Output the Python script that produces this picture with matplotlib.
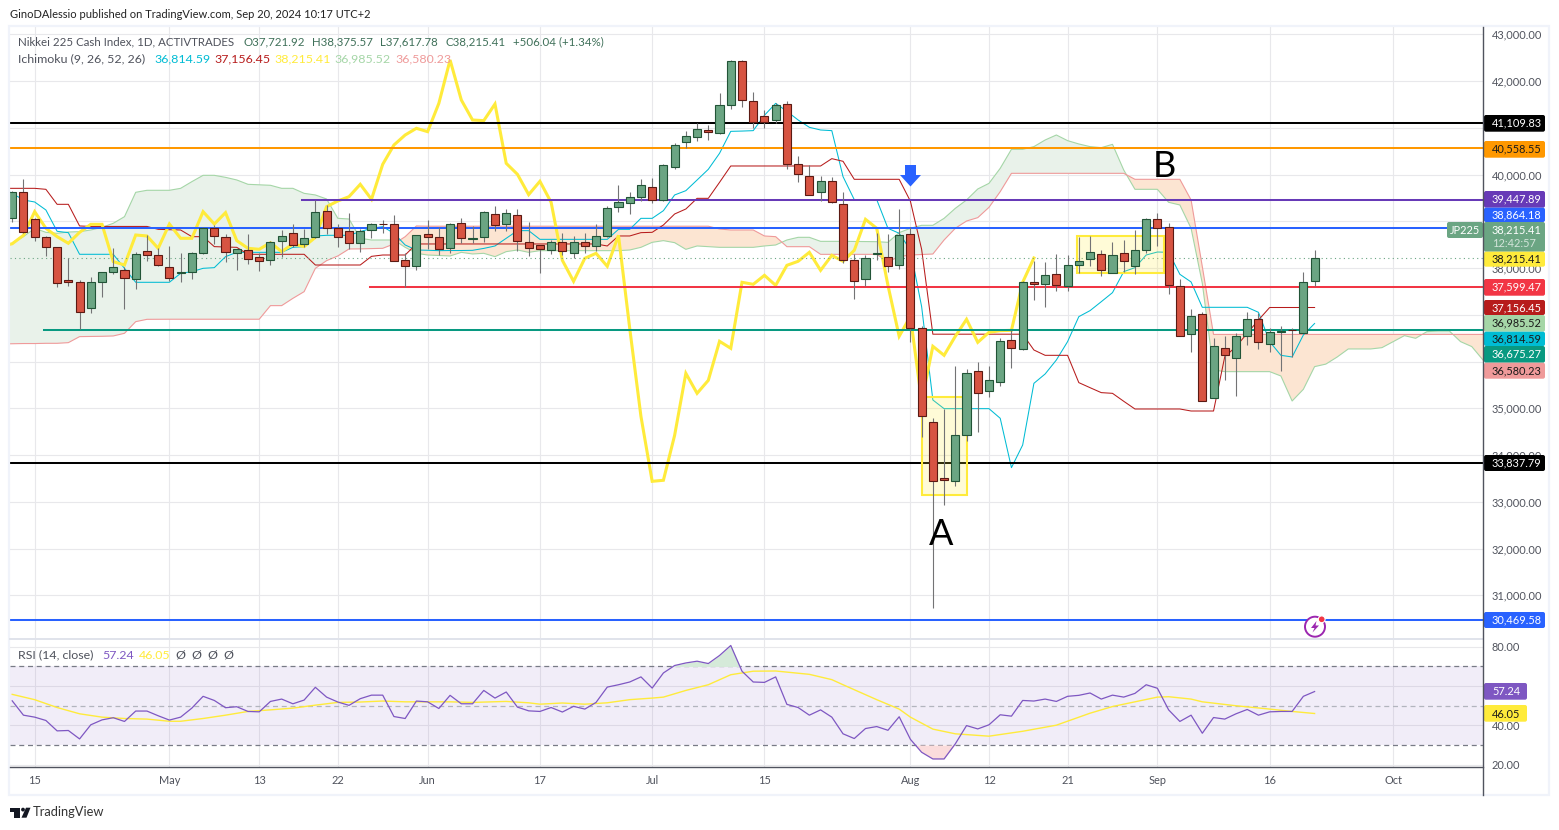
import matplotlib
matplotlib.use("Agg")
import matplotlib.pyplot as plt
import numpy as np
from matplotlib.patches import Rectangle, FancyBboxPatch, Circle, Polygon

plt.rcParams['font.family'] = ['Lato', 'DejaVu Sans']

# Nikkei daily candles, first visible bar has index -2 (15 Apr is index 0)
opens = [39064, 39620, 39042, 38657, 38443, 37737, 37695, 37138, 37695, 37909,
         37951, 37759, 38358, 38272, 38016, 37900, 37909, 38315, 38850, 38657,
         38315, 38379, 38229, 38165, 38572, 38743, 38507, 38657, 39213, 38850,
         38786, 38529, 38807, 38942, 38935, 38165, 38037, 38721, 38657, 38422,
         38957, 38630, 38671, 39149, 38935, 39128, 38550, 38486, 38379, 38550,
         38315, 38550, 38464, 38678, 39299, 39384, 39513, 39727, 39463, 40169,
         40689, 40796, 40946, 40882, 41480, 42422, 41566, 41260, 41160, 41502,
         40219, 39962, 39620, 39855, 39363, 38165, 37759, 38310, 38229, 38058,
         38721, 36711, 34700, 33502, 33438, 34422, 35791, 35363, 35556, 36454,
         36261, 37695, 37652, 37866, 37609, 38058, 38187, 38294, 37901, 38315,
         38037, 38379, 39042, 38871, 37609, 36582, 37010, 35213, 36283, 36069,
         36540, 36903, 36368, 36640, 36675, 36604, 37722]
closes = [39620, 38778, 38657, 38443, 37673, 37695, 37053, 37695, 37909, 38016,
          37780, 38294, 38272, 38058, 37780, 37910, 38315, 38850, 38679, 38336,
          38401, 38194, 38144, 38550, 38679, 38486, 38636, 39192, 38850, 38657,
          38529, 38786, 38935, 38935, 38144, 38051, 38700, 38671, 38415, 38935,
          38636, 38636, 39192, 38914, 39171, 38572, 38422, 38400, 38550, 38358,
          38550, 38464, 38678, 39277, 39406, 39513, 39769, 39449, 40197, 40625,
          40817, 40967, 40903, 41480, 42422, 41587, 41131, 41131, 41480, 40219,
          40005, 39570, 39855, 39406, 38165, 37716, 38208, 38315, 38037, 38700,
          36711, 34828, 33438, 33460, 34422, 35748, 35320, 35598, 36433, 36283,
          37695, 37652, 37844, 37630, 38058, 38144, 38336, 37951, 38272, 38144,
          38379, 39042, 38850, 37630, 36540, 36967, 35149, 36326, 36133, 36540,
          36903, 36411, 36625, 36660, 36668, 37695, 38215.41]
highs = [39650, 39905, 39060, 38680, 38443, 38208, 37745, 37809, 37915, 38422,
         38030, 38351, 38707, 38422, 38472, 38329, 38344, 38871, 38921, 38728,
         38401, 38728, 38315, 38586, 38814, 38942, 38828, 39456, 39342, 38942,
         39178, 38828, 38957, 39028, 39128, 38315, 38707, 39028, 38885, 38957,
         39071, 38900, 39213, 39327, 39263, 39263, 38978, 38500, 38600, 38757,
         38678, 38743, 38935, 39327, 39776, 39620, 39898, 39919, 40225, 40668,
         40931, 41095, 41060, 41751, 42450, 42450, 41773, 41381, 41523, 41566,
         40397, 40197, 39976, 39940, 39620, 38293, 38279, 38743, 38728, 39263,
         38871, 36750, 34786, 34992, 35905, 35841, 35984, 35905, 36497, 36675,
         37716, 38144, 38122, 38294, 38272, 38671, 38686, 38379, 38557, 38600,
         38814, 39064, 39171, 38957, 37766, 37117, 37053, 36497, 36547, 36604,
         37060, 37046, 36711, 36760, 36711, 37909, 38375.57]
lows = [38978, 38743, 38586, 38258, 37602, 37623, 36689, 37046, 37388, 37873,
        37117, 37545, 38158, 38044, 37730, 37709, 37773, 38294, 38515, 38137,
        37959, 38087, 37944, 38065, 38244, 38458, 38458, 38636, 38728, 38458,
        38401, 38351, 38643, 38743, 38144, 37602, 37959, 38401, 38279, 38329,
        38529, 38529, 38564, 38800, 38800, 38365, 38258, 37901, 38293, 38279,
        38222, 38329, 38372, 38671, 39206, 39149, 39427, 39399, 39427, 40126,
        40561, 40718, 40739, 40867, 41409, 41452, 40989, 41003, 41096, 40126,
        39848, 39555, 39427, 39399, 38101, 37345, 37616, 38172, 37908, 37973,
        36425, 34394, 30729, 32932, 33345, 34300, 34500, 35249, 35484, 35869,
        36247, 37317, 37174, 37509, 37509, 37901, 38044, 37837, 37887, 37923,
        37880, 38315, 38472, 37445, 36540, 36212, 35149, 35213, 35606, 35263,
        36361, 36269, 36205, 35805, 36090, 36604, 37617.78]

# Ichimoku lines, all of them start at index -3
tenkan = [39720, 39598, 39456, 39413, 39242, 38786, 38757, 38294, 38294, 38294,
          38294, 37994, 37695, 37695, 37695, 37695, 37887, 37923, 37994, 38008,
          38244, 38336, 38336, 38336, 38336, 38336, 38443, 38458, 38686, 38700,
          38700, 38700, 38779, 38850, 38885, 38743, 38493, 38386, 38380, 38372,
          38375, 38375, 38379, 38420, 38472, 38636, 38800, 38800, 38614, 38614,
          38614, 38614, 38614, 38614, 38614, 38828, 38828, 39063, 39063, 39227,
          39563, 39655, 39883, 40112, 40454, 40924, 40930, 40939, 41267, 41523,
          41352, 41167, 41010, 40953, 40939, 39955, 39463, 39463, 39463, 38850,
          38743, 38386, 37174, 35178, 34992, 34992, 34992, 34992, 34992, 34786,
          33730, 34215, 35534, 35734, 36033, 36426, 36960, 37089, 37280, 37474,
          37923, 38008, 38279, 38343, 38336, 37866, 37702, 37160, 37160, 37160,
          37160, 37160, 37053, 36426, 36133, 36098, 36568, 36814]
kijun = [39705, 39705, 39705, 39705, 39684, 39363, 39363, 38900, 38890, 38890,
         38890, 38890, 38890, 38890, 38828, 38820, 38814, 38671, 38671, 38458,
         38450, 38443, 38294, 38294, 38294, 38294, 38294, 38294, 38065, 38065,
         38065, 38065, 38065, 38250, 38279, 38279, 38279, 38515, 38515, 38515,
         38515, 38515, 38515, 38515, 38515, 38515, 38515, 38515, 38515, 38515,
         38515, 38515, 38515, 38515, 38472, 38686, 38686, 38757, 38764, 38921,
         39156, 39263, 39491, 39491, 39833, 40183, 40183, 40183, 40183, 40183,
         40183, 40183, 40183, 40183, 40340, 40283, 39898, 39898, 39898, 39898,
         39898, 39430, 38400, 36585, 36585, 36585, 36585, 36585, 36585, 36585,
         36585, 36585, 36247, 36133, 36133, 36133, 35549, 35441, 35335, 35320,
         35150, 34985, 34985, 34985, 34985, 34985, 34942, 34942, 34942, 36105,
         36318, 36604, 36889, 37156, 37156, 37156, 37156, 37156]
chikou = [38460, 38520, 38700, 39206, 38850, 38671, 38529, 38764, 38935, 38935,
          38137, 38065, 38707, 38686, 38422, 38942, 38636, 38636, 39206, 38942,
          39185, 38586, 38422, 38401, 38543, 38351, 38515, 38458, 38657, 39313,
          39434, 39527, 39791, 39470, 40219, 40632, 40846, 40989, 40917, 41523,
          42450, 41595, 41167, 41153, 41509, 40240, 40005, 39570, 39855, 39406,
          38165, 37716, 38208, 38315, 38037, 38700, 36711, 34828, 33438, 33460,
          34422, 35748, 35320, 35598, 36433, 36283, 37695, 37652, 37844, 37630,
          38058, 38144, 38336, 37951, 38272, 38144, 38379, 39042, 38850, 37630,
          36540, 36967, 35149, 36326, 36133, 36540, 36903, 36411, 36625, 36660,
          36668, 37695, 38215]
span_a = [38458, 38530, 38671, 38850, 38764, 38743, 38771, 38778, 38814, 38871,
          38957, 39099, 39620, 39663, 39663, 39663, 39705, 39848, 39983, 39983,
          39940, 39884, 39791, 39780, 39770, 39705, 39705, 39598, 39563, 39477,
          39064, 39049, 38636, 38600, 38600, 38600, 38443, 38315, 38279, 38268,
          38258, 38336, 38301, 38315, 38244, 38351, 38386, 38336, 38372, 38372,
          38372, 38372, 38372, 38372, 38372, 38372, 38386, 38443, 38550, 38586,
          38543, 38400, 38472, 38457, 38443, 38443, 38443, 38443, 38472, 38493,
          38600, 38657, 38657, 38571, 38571, 38571, 38568, 38566, 38564, 38550,
          38757, 38850, 38914, 38914, 39063, 39277, 39456, 39691, 39812, 40133,
          40540, 40540, 40597, 40739, 40846, 40725, 40654, 40597, 40575, 40646,
          40097, 39684, 39684, 39684, 39406, 39349, 38850, 37673, 35820, 35784,
          35784, 35784, 35784, 35784, 35691, 35156, 35406, 35891, 35945, 36095,
          36269, 36269, 36269, 36297, 36426, 36554, 36497, 36639, 36654, 36654,
          36426, 36320, 36033]
span_b = [36376, 36380, 36385, 36385, 36390, 36390, 36404, 36533, 36536, 36540,
          36547, 36604, 36853, 36903, 36905, 36905, 36905, 36905, 36905, 36905,
          36905, 36905, 36905, 36905, 37196, 37196, 37352, 37495, 37994, 38158,
          38258, 38408, 38410, 38415, 38422, 38515, 38671, 38900, 38895, 38895,
          38895, 38895, 38895, 38895, 38895, 38895, 38895, 38895, 38895, 38895,
          38895, 38895, 38895, 38895, 38895, 38895, 38895, 38895, 38895, 38895,
          38895, 38895, 38895, 38895, 38835, 38814, 38814, 38814, 38686, 38671,
          38457, 38457, 38457, 38293, 38293, 38293, 38293, 38293, 38293, 38137,
          38244, 38279, 38290, 38300, 38600, 38850, 39006, 39078, 39299, 39634,
          40026, 40026, 40026, 40026, 40026, 40026, 40026, 40026, 40026, 40026,
          40026, 39898, 39898, 39898, 39898, 39898, 39456, 38030, 36580, 36580,
          36580, 36580, 36580, 36580, 36580, 36580, 36580, 36580, 36580, 36580,
          36580, 36580, 36580, 36580, 36580, 36580, 36580, 36580, 36580, 36580,
          36580, 36580, 36580]

# RSI starts at index -2 like the candles
rsi = [52.5, 45.2, 44.2, 42.5, 37.2, 37.4, 33.1, 40.3, 42.8, 43.9,
       42.0, 47.3, 47.3, 44.9, 42.7, 44.2, 48.8, 54.8, 52.7, 49.0,
       49.5, 47.1, 46.9, 52.2, 53.4, 51.0, 52.9, 59.4, 54.4, 51.9,
       50.2, 53.6, 55.4, 55.4, 44.5, 43.5, 52.4, 52.0, 48.6, 55.3,
       51.0, 51.0, 57.8, 53.9, 57.0, 49.3, 47.4, 47.1, 49.1, 46.8,
       49.7, 48.3, 51.7, 59.5, 60.7, 62.1, 64.7, 59.0, 66.7, 70.5,
       71.8, 72.7, 71.5, 75.6, 80.7, 67.6, 62.1, 61.9, 64.7, 50.7,
       49.1, 45.2, 47.9, 44.2, 35.7, 33.3, 38.4, 39.4, 37.5, 44.4,
       32.9, 26.3, 22.9, 22.9, 30.6, 39.9, 38.2, 40.3, 45.4, 44.7,
       52.7, 52.4, 53.4, 52.2, 54.8, 55.3, 56.5, 53.4, 55.4, 54.4,
       56.3, 60.7, 58.9, 47.9, 42.0, 45.2, 36.0, 44.0, 43.2, 45.9,
       48.1, 45.2, 46.9, 47.1, 47.1, 54.8, 57.24]
rsi_ma_bars = [-2, 0, 2, 4, 6, 8, 10, 12, 13, 15, 17, 19, 21, 23, 25, 27, 29, 31, 33, 35,
               37, 39, 42, 44, 45, 47, 49, 51, 53, 55, 56, 58, 60, 62, 64, 66, 69, 71, 72,
               75, 77, 78, 80, 82, 85, 88, 91, 94, 96, 98, 100, 101, 103, 104, 107, 110, 112, 114]
rsi_ma = [55.8, 53.1, 49.1, 45.9, 44.2, 43.5, 43.2, 42.1, 42.1, 43.5, 45.2, 47.1, 47.9, 48.8,
          50.3, 51.7, 51.9, 52.4, 52.0, 52.0, 52.0, 51.7, 52.2, 51.5, 50.8, 51.4, 50.8, 51.5,
          53.1, 53.9, 54.4, 57.8, 60.7, 65.8, 67.6, 67.7, 66.0, 63.3, 60.7, 53.1, 48.3, 44.2,
          38.1, 35.7, 34.5, 37.0, 40.1, 46.2, 49.6, 52.0, 54.4, 54.6, 53.4, 52.0, 50.0, 48.3,
          47.1, 46.05]

# time axis
date_bars = [0, 12, 20, 27, 35, 45, 55, 65, 78, 85, 92, 100, 110, 121]
date_labels = ['15', 'May', '13', '22', 'Jun', '17', 'Jul', '15', 'Aug', '12', '21', 'Sep', '16', 'Oct']
price_ticks = [31000, 32000, 33000, 34000, 35000, 36000, 37000, 38000, 39000, 40000, 41000, 42000, 43000]
hidden_ticks = [36000, 37000, 39000, 41000]  # covered by the price tags on the original
rsi_ticks = [20, 40, 60, 80]

# levels drawn by hand: value, first bar (None = from the left edge), colour
levels = [41109.83, 40558.55, 39447.89, 38864.18, 37599.47, 36675.27, 33837.79, 30469.58]
level_starts = [None, None, 23.8, None, 29.9, 0.83, None, None]
level_colors = ['#000000', '#ff9800', '#673ab7', '#2962ff', '#f23645', '#089981', '#000000', '#2962ff']
last_close = 38215.41

UP, UP_EDGE = '#6ba583', '#225437'
DOWN, DOWN_EDGE = '#d75442', '#5b1a13'
GRID = '#e8e8eb'

W, H = 1559, 830
fig = plt.figure(figsize=(W / 100, H / 100), dpi=100, facecolor='white')


def pane(x0, y0, x1, y1):
    # pane rectangle given in pixels from the top left
    return fig.add_axes([x0 / W, 1 - y1 / H, (x1 - x0) / W, (y1 - y0) / H])


ax = pane(10, 27, 1483, 639)
ax_rsi = pane(10, 639, 1483, 767)
XLIM = (-2.197, 129.0)

for a in (ax, ax_rsi):
    a.set_xlim(*XLIM)
    for s in a.spines.values():
        s.set_visible(False)
    a.yaxis.tick_right()
    a.set_xticks(date_bars)
    a.grid(True, color=GRID, lw=0.8)
    a.set_axisbelow(True)
    a.tick_params(length=0, labelsize=7.9, labelcolor='#4f525c', pad=6.2)

ax.set_ylim(30065, 43156)
ax.set_yticks(price_ticks)
ax.set_yticklabels(['' if v in hidden_ticks else f'{v:,.2f}' for v in price_ticks], va='center_baseline')
ax.tick_params(axis='x', labelbottom=False)

bars = np.arange(len(opens)) - 2
o, c, h, l = map(np.array, (opens, closes, highs, lows))
up = c >= o

# cloud
x_span = np.arange(len(span_a)) - 3
a_arr, b_arr = np.array(span_a), np.array(span_b)
ax.fill_between(x_span, a_arr, b_arr, where=a_arr >= b_arr, interpolate=True, color='#e9f2ea', lw=0, zorder=1)
ax.fill_between(x_span, a_arr, b_arr, where=a_arr < b_arr, interpolate=True, color='#fce5d2', lw=0, zorder=1)
ax.plot(x_span, span_a, color='#a5d6a7', lw=0.8, zorder=2)
ax.plot(x_span, span_b, color='#ef9a9a', lw=0.8, zorder=2)

x_line = np.arange(len(tenkan)) - 3
ax.plot(x_line, tenkan, color='#00bcd4', lw=0.75, zorder=3)
ax.plot(x_line, kijun, color='#b71c1c', lw=0.75, zorder=3)
ax.plot(np.arange(len(chikou)) - 3, chikou, color='#ffeb3b', lw=2.2, zorder=3, solid_joinstyle='miter')

# horizontal levels
for val, start, col in zip(levels, level_starts, level_colors):
    ax.plot([XLIM[0] if start is None else start, XLIM[1]], [val, val], color=col, lw=1.45, zorder=4)
ax.axhline(last_close, color=UP, lw=0.8, ls=(0, (1, 3)), zorder=4)

# yellow boxes around the two congestion zones
for x0, x1, p0, p1 in [(79, 83, 33146, 35249), (92.85, 100.6, 37894, 38693)]:
    ax.add_patch(Rectangle((x0, p0), x1 - x0, p1 - p0, fc=(1, 0.92, 0.23, 0.2), ec='#ffeb3b', lw=1.5, zorder=5))

# candles
ax.vlines(bars, l, h, color='#737375', lw=0.8, zorder=6)
ax.bar(bars[up], (c - o)[up], bottom=o[up], width=0.72, color=UP, edgecolor=UP_EDGE, lw=0.8, zorder=7)
ax.bar(bars[~up], (c - o)[~up], bottom=o[~up], width=0.72, color=DOWN, edgecolor=DOWN_EDGE, lw=0.8, zorder=7)

ax.text(80.7, 32300, 'A', fontsize=26, color='black', ha='center', va='center', zorder=8)
ax.text(100.6, 40180, 'B', fontsize=26, color='black', ha='center', va='center', zorder=8)

# RSI pane
ax_rsi.set_ylim(18.8, 84)
ax_rsi.set_yticks(rsi_ticks)
ax_rsi.set_yticklabels([f'{v:.2f}' for v in rsi_ticks], va='center_baseline')
ax_rsi.set_xticklabels(date_labels)
ax_rsi.tick_params(axis='x', pad=5.4)
ax_rsi.axhspan(30, 70, color='#7e57c2', alpha=0.1, lw=0, zorder=1)
for v, col in [(70, '#787b86'), (30, '#787b86'), (50, '#b2b5be')]:
    ax_rsi.axhline(v, color=col, lw=0.9, ls=(0, (4, 3)), zorder=2)
x_rsi = np.arange(len(rsi)) - 2
rsi_arr = np.array(rsi)
ax_rsi.fill_between(x_rsi, rsi_arr, 70, where=rsi_arr > 70, interpolate=True, color='#d5ead9', lw=0, zorder=2)
ax_rsi.fill_between(x_rsi, rsi_arr, 30, where=rsi_arr < 30, interpolate=True, color='#fbdcdc', lw=0, zorder=2)
ax_rsi.plot(rsi_ma_bars, rsi_ma, color='#ffeb3b', lw=1.0, zorder=3)
ax_rsi.plot(x_rsi, rsi, color='#7e57c2', lw=0.9, zorder=4)

# overlay in pixel coordinates for the price tags, headers and frame
ov = fig.add_axes([0, 0, 1, 1], zorder=20)
ov.set_xlim(0, W)
ov.set_ylim(H, 0)
ov.axis('off')


def text(x, y, s, color='#4f525c', size=8.6, **kw):
    kw.setdefault('va', 'center')
    ov.text(x, y, s, color=color, fontsize=size, **kw)


def tag(y0, y1, s, bg, fg):
    ov.add_patch(FancyBboxPatch((1484, y0), 61, y1 - y0, boxstyle='round,pad=0,rounding_size=2', fc=bg, ec='none'))
    text(1492, (y0 + y1) / 2, s, color=fg, size=7.9)


# frame and axis lines
ov.add_patch(Rectangle((9, 26.5), 1540, 768.5, fc='none', ec='#f0f3fa', lw=1.6))
ov.plot([10, 1483], [639, 639], color='#e0e3eb', lw=1.4)
ov.plot([10, 1483], [767, 767], color='#50535e', lw=1.0)
ov.plot([1483, 1483], [27, 795], color='#50535e', lw=1.0)

tag(115, 131.7, '41,109.83', '#000000', 'white')
tag(141, 157.7, '40,558.55', '#ff9800', '#1a1a1a')
tag(191, 207.7, '39,447.89', '#673ab7', 'white')
tag(207.7, 222, '38,864.18', '#2962ff', 'white')
ov.add_patch(FancyBboxPatch((1484, 222), 61, 29.7, boxstyle='round,pad=0,rounding_size=2', fc=UP, ec='none'))
text(1492, 230, '38,215.41', color='white', size=7.9)
text(1492, 243, '12:42:57', color='#d3e4da', size=7.9)
tag(251.7, 266.7, '38,215.41', '#ffeb3b', '#1a1a1a')
tag(279, 295.7, '37,599.47', '#f23645', 'white')
tag(300, 315, '37,156.45', '#b71c1c', 'white')
tag(315, 331.7, '36,985.52', '#a5d6a7', '#1a1a1a')
tag(331.7, 346, '36,814.59', '#00bcd4', '#1a1a1a')
tag(346, 362.7, '36,675.27', '#089981', 'white')
tag(362.7, 378.7, '36,580.23', '#ef9a9a', '#1a1a1a')
tag(455, 471, '33,837.79', '#000000', 'white')
tag(612, 628, '30,469.58', '#2962ff', 'white')
ov.add_patch(FancyBboxPatch((1447, 222), 36, 16, boxstyle='round,pad=0,rounding_size=2', fc=UP, ec='none'))
text(1465, 230.5, 'JP225', color='white', size=7.9, ha='center')

# rsi tags
ov.add_patch(FancyBboxPatch((1484, 683), 43, 16.7, boxstyle='round,pad=0,rounding_size=2', fc='#7e57c2', ec='none'))
text(1492, 691.5, '57.24', color='white', size=7.9)
ov.add_patch(FancyBboxPatch((1484, 705), 43, 16.7, boxstyle='round,pad=0,rounding_size=2', fc='#ffeb3b', ec='none'))
text(1492, 714, '46.05', color='#1a1a1a', size=7.9)

# headers
text(10, 14, 'GinoDAlessio published on TradingView.com, Sep 20, 2024 10:17 UTC+2', color='#222222', size=8.0)
text(18, 42, 'Nikkei 225 Cash Index, 1D, ACTIVTRADES', size=8.3)
for x, s in [(244, 'O37,721.92'), (312, 'H38,375.57'), (380, 'L37,617.78'), (446, 'C38,215.41'), (513, '+506.04 (+1.34%)')]:
    text(x, 42, s, color='#3f7059', size=8.3)
text(18, 59, 'Ichimoku (9, 26, 52, 26)', size=8.9)
for x, s, col in [(154, '36,814.59', '#00bcd4'), (214, '37,156.45', '#b71c1c'), (274, '38,215.41', '#ffeb3b'),
                  (334, '36,985.52', '#a5d6a7'), (395, '36,580.23', '#ef9a9a')]:
    text(x, 59, s, color=col, size=8.9)
text(18, 655, 'RSI (14, close)', size=8.9)
text(102, 655, '57.24', color='#7e57c2', size=8.9)
text(139, 655, '46.05', color='#ffeb3b', size=8.9)
for x in (175, 191, 207, 223):
    text(x, 655, '\u00d8', size=8.9)

# blue arrow over the August drop
ov.add_patch(Polygon([(905, 165), (916, 165), (916, 175), (921, 175), (910.5, 186.5), (900, 175), (905, 175)],
                     fc='#2962ff', ec='none'))

# lightning badge
ov.add_patch(Circle((1315, 626.7), 10, fc='white', ec='#9c27b0', lw=1.4))
ov.add_patch(Polygon([(1316.5, 621), (1311, 628), (1314.5, 628), (1312.5, 632.5), (1319, 625.5), (1315.5, 625.5)],
                     fc='#9c27b0', ec='none'))
ov.add_patch(Circle((1321.7, 619.3), 3.4, fc='#f23645', ec='white', lw=0.8))

# TradingView logo
ov.add_patch(Polygon([(10, 807.7), (20, 807.7), (20, 817.7), (14.5, 817.7), (14.5, 811.5), (10, 811.5)], fc='#131722', ec='none'))
ov.add_patch(Circle((23, 809.6), 1.9, fc='#131722', ec='none'))
ov.add_patch(Polygon([(26, 807.7), (30.5, 807.7), (26.5, 817.7), (21.5, 817.7)], fc='#131722', ec='none'))
text(33, 812, 'TradingView', color='#333333', size=9.3)

fig.savefig('out.png', dpi=100)
